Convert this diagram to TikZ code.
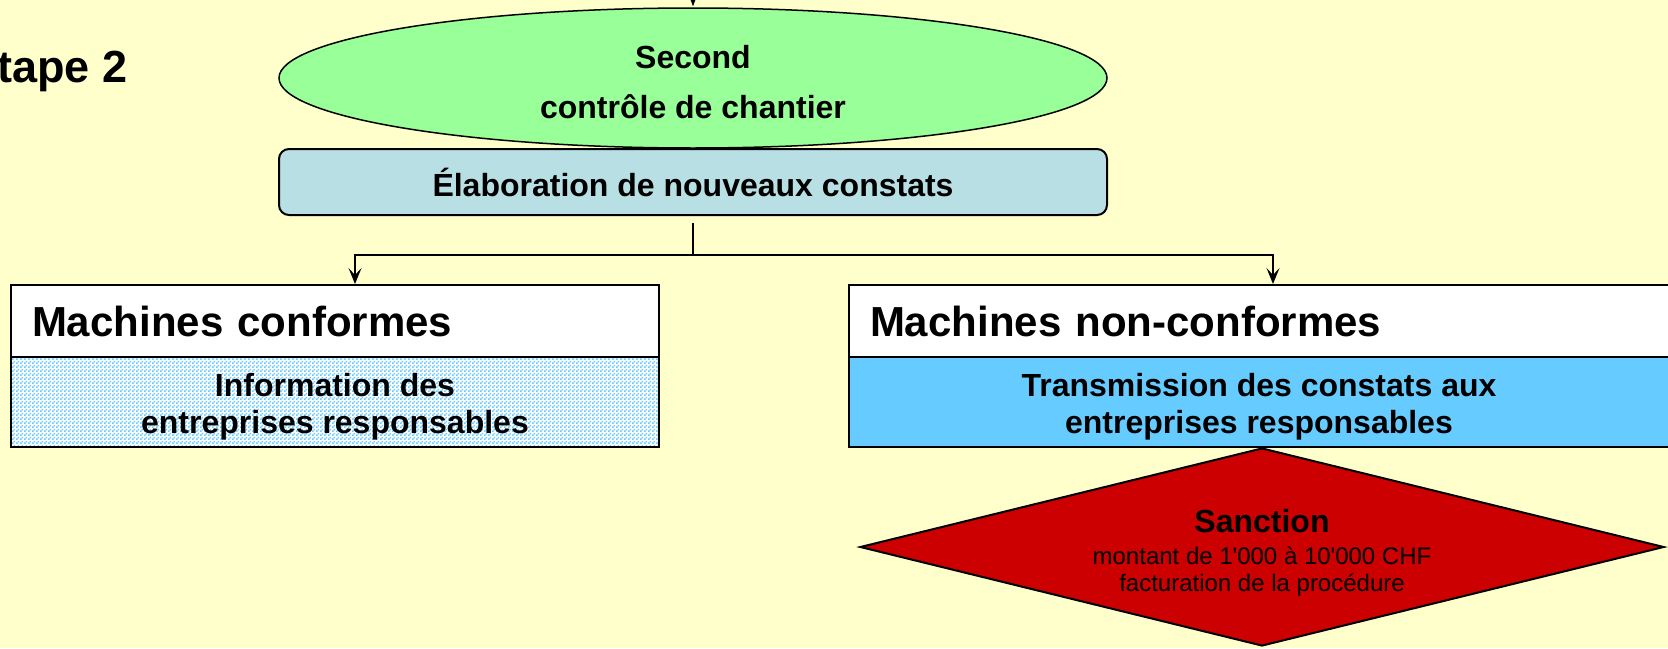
\documentclass[tikz,border=0pt]{standalone}
\usepackage{fontspec}
\setmainfont{Liberation Sans}
\usetikzlibrary{shapes.geometric,arrows.meta,patterns}
\definecolor{fond}{HTML}{FFFFCC}
\definecolor{vert}{HTML}{99FF99}
\definecolor{gris}{HTML}{B8E0E4}
\definecolor{bleu}{HTML}{66CCFF}
\definecolor{rouge}{HTML}{CC0000}
\pgfdeclarepatternformonly{tissu}{\pgfpointorigin}{\pgfqpoint{4pt}{4pt}}{\pgfqpoint{4pt}{4pt}}{
  \pgfpathrectangle{\pgfpointorigin}{\pgfqpoint{2pt}{2pt}}
  \pgfpathrectangle{\pgfqpoint{2pt}{2pt}}{\pgfqpoint{2pt}{2pt}}
  \pgfusepath{fill}}
\tikzset{
  tete/.style={draw, fill=white, line width=2pt, minimum height=72pt, inner xsep=21pt, align=left},
  corps/.style={draw, line width=2pt, minimum height=90pt},
  texte/.style={align=center, font=\fontsize{32}{37}\selectfont\bfseries},
  fleche/.style={-{Stealth[length=16pt,width=13pt,inset=7pt]}, line width=2pt}
}
\begin{document}
\begin{tikzpicture}[x=1pt, y=-1pt, >={Latex[length=11pt,width=9pt]}]
\useasboundingbox[fill=fond] (0,0) rectangle (1668,648);
\node[anchor=base west, inner sep=0pt, font=\fontsize{45}{54}\selectfont\bfseries] (etape) at (-3,82) {tape 2};
\node[ellipse, draw, fill=vert, line width=1.5pt, minimum width=828pt, minimum height=140pt] (ctrl) at (693,78) {};
\node[texte, font=\fontsize{32}{50}\selectfont\bfseries] (ctrltxt) at (693,82) {Second\\contrôle de chantier};
\node[draw, fill=gris, line width=2pt, rounded corners=10pt, minimum width=828pt, minimum height=66pt, font=\fontsize{32}{38}\selectfont\bfseries] (elab) at (693,182) {Élaboration de nouveaux constats};
\coordinate (haut) at (693,0);
\coordinate (fork) at (693,255);
\draw[->, line width=2pt] (haut) -- (ctrl.north);
\draw[line width=2pt, shorten <=7pt] (elab.south) -- (fork);
% deux cas
\node[tete, text width=606pt, font=\fontsize{42}{50}\selectfont\bfseries] (conf) at (335,321) {Machines conformes};
\node[corps, minimum width=648pt, preaction={fill=white}, pattern=tissu, pattern color=bleu] (info) at (335,402) {};
\node[texte] (infotxt) at (335,407) {Information des\\entreprises responsables};
\node[tete, text width=778pt, font=\fontsize{42}{50}\selectfont\bfseries] (nonconf) at (1259,321) {Machines non-conformes};
\node[corps, minimum width=820pt, fill=bleu] (trans) at (1259,402) {};
\node[texte] (transtxt) at (1259,407) {Transmission des constats aux\\entreprises responsables};
\draw[fleche] (fork) -| ([xshift=20pt]conf.north);
\draw[fleche] (fork) -| ([xshift=14pt]nonconf.north);
\node[diamond, draw, fill=rouge, line width=2pt, minimum width=804pt, minimum height=198pt] (sanc) at (1262,547) {};
\node[align=center, font=\fontsize{24}{27}\selectfont] (sanctxt) at (1262,553) {{\fontsize{32}{35}\selectfont\bfseries Sanction}\\[5pt]montant de 1\textquotesingle000 à 10\textquotesingle000 CHF\\facturation de la procédure};
\end{tikzpicture}
\end{document}
